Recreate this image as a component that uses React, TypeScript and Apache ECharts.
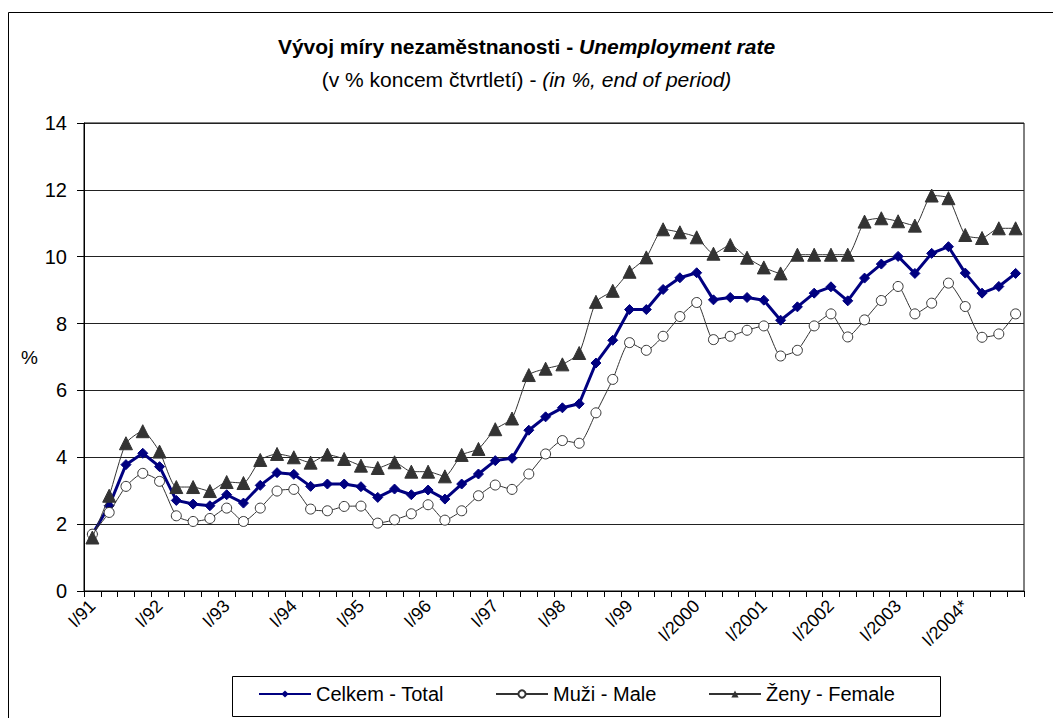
import React, { useEffect, useRef } from "react";
import * as echarts from "echarts";

const years = ["91", "92", "93", "94", "95", "96", "97", "98", "99", "2000", "2001", "2002", "2003", "2004"];
const quarters = ["I", "II", "III", "IV"];
const categories: string[] = [];
years.forEach((y) => {
  quarters.forEach((q) => {
    categories.push(q + "/" + y + (y === "2004" && q === "I" ? "*" : ""));
  });
});

const totalValues = [
  1.7, 2.55, 3.78, 4.12, 3.72, 2.71, 2.6, 2.55, 2.88, 2.63, 3.16, 3.54, 3.49, 3.13,
  3.2, 3.2, 3.12, 2.8, 3.05, 2.88, 3.02, 2.75, 3.2, 3.5, 3.9, 3.97, 4.81, 5.21,
  5.48, 5.6, 6.82, 7.5, 8.42, 8.42, 9.02, 9.37, 9.52, 8.71, 8.78, 8.78, 8.7, 8.1,
  8.5, 8.91, 9.1, 8.68, 9.36, 9.78, 10.01, 9.5, 10.1, 10.3, 9.51, 8.91, 9.11, 9.5,
];

const maleValues = [
  1.7, 2.35, 3.13, 3.52, 3.28, 2.25, 2.08, 2.17, 2.48, 2.08, 2.48, 2.99, 3.04, 2.45,
  2.4, 2.53, 2.54, 2.03, 2.13, 2.31, 2.58, 2.12, 2.4, 2.85, 3.17, 3.04, 3.5, 4.1,
  4.5, 4.42, 5.33, 6.33, 7.43, 7.2, 7.62, 8.21, 8.63, 7.52, 7.62, 7.8, 7.93, 7.03,
  7.2, 7.93, 8.29, 7.6, 8.11, 8.69, 9.11, 8.29, 8.61, 9.21, 8.51, 7.59, 7.69, 8.29,
];

const femaleValues = [
  1.6, 2.85, 4.42, 4.78, 4.17, 3.11, 3.11, 2.99, 3.26, 3.23, 3.92, 4.1, 4.0, 3.84,
  4.08, 3.95, 3.75, 3.68, 3.85, 3.57, 3.57, 3.43, 4.07, 4.25, 4.84, 5.16, 6.46, 6.65,
  6.78, 7.12, 8.65, 8.98, 9.55, 9.98, 10.82, 10.73, 10.58, 10.09, 10.35, 9.97, 9.68, 9.5,
  10.06, 10.06, 10.06, 10.06, 11.05, 11.15, 11.06, 10.93, 11.83, 11.75, 10.65, 10.56, 10.85, 10.85,
];

const seriesNames = ["Celkem - Total", "Muži - Male", "Ženy - Female"];
const FONT = "'Liberation Sans', Arial, sans-serif";

export default function App() {
  const ref = useRef<HTMLDivElement>(null);
  useEffect(() => {
    if (!ref.current) return;
    const chart = echarts.init(ref.current, undefined, { renderer: "svg" });
    const legendBase = {
      top: 684,
      itemWidth: 52,
      itemHeight: 9,
      itemGap: 6,
      padding: 0,
      textStyle: { fontFamily: FONT, fontSize: 20, color: "#000" },
    };
    chart.setOption({
      animation: false,
      backgroundColor: "#fff",
      textStyle: { fontFamily: FONT, color: "#000" },
      title: [
        {
          left: "center",
          top: 31,
          text: "{a|Vývoj míry nezaměstnanosti - }{b|Unemployment rate}",
          textStyle: {
            rich: {
              a: { fontFamily: FONT, fontSize: 21, fontWeight: "bold", color: "#000" },
              b: { fontFamily: FONT, fontSize: 21, fontWeight: "bold", fontStyle: "italic", color: "#000" },
            },
          },
        },
        {
          left: "center",
          top: 64,
          text: "{a|(v % koncem čtvrtletí) - }{b|(in %, end of period)}",
          textStyle: {
            fontWeight: "normal",
            rich: {
              a: { fontFamily: FONT, fontSize: 21, fontWeight: "normal", color: "#000" },
              b: { fontFamily: FONT, fontSize: 21, fontWeight: "normal", fontStyle: "italic", color: "#000" },
            },
          },
        },
      ],
      graphic: [
        {
          type: "rect",
          shape: { x: 8.5, y: 12.5, width: 1200, height: 900 },
          style: { fill: "none", stroke: "#000", lineWidth: 1 },
          silent: true,
        },
        {
          type: "rect",
          shape: { x: 232.5, y: 676.5, width: 708, height: 40 },
          style: { fill: "#fff", stroke: "#000", lineWidth: 1 },
          silent: true,
          z: -1,
        },
        {
          type: "text",
          x: 21,
          y: 348,
          style: { text: "%", fontFamily: FONT, fontSize: 19, fill: "#000" },
        },
      ],
      legend: [
        { ...legendBase, left: 258, data: [seriesNames[0]] },
        { ...legendBase, left: 495, data: [seriesNames[1]] },
        { ...legendBase, left: 708, data: [seriesNames[2]] },
      ],
      grid: { left: 84, top: 123, right: 29, bottom: 127, show: true, borderColor: "#000", borderWidth: 1 },
      xAxis: {
        type: "category",
        data: categories,
        boundaryGap: true,
        axisLine: { lineStyle: { color: "#000", width: 1 } },
        axisTick: { show: true, interval: 0, length: 6, lineStyle: { color: "#000" } },
        axisLabel: {
          interval: 3,
          rotate: 45,
          margin: 12,
          fontFamily: FONT,
          fontSize: 18,
          color: "#000",
        },
      },
      yAxis: {
        type: "value",
        min: 0,
        max: 14,
        interval: 2,
        axisLine: { show: true, lineStyle: { color: "#000", width: 1 } },
        axisTick: { show: true, length: 7, lineStyle: { color: "#000" } },
        axisLabel: { margin: 17, fontFamily: FONT, fontSize: 20, color: "#000" },
        splitLine: { show: true, lineStyle: { color: "#222", width: 1 } },
      },
      series: [
        {
          name: seriesNames[0],
          type: "line",
          data: totalValues,
          showAllSymbol: true,
          symbol: "diamond",
          symbolSize: 10,
          lineStyle: { color: "#000080", width: 3 },
          itemStyle: { color: "#000080", borderColor: "#000080" },
          z: 3,
        },
        {
          name: seriesNames[1],
          type: "line",
          data: maleValues,
          showAllSymbol: true,
          smooth: 0.2,
          symbol: "circle",
          symbolSize: 10,
          lineStyle: { color: "#333", width: 1 },
          itemStyle: { color: "#fff", borderColor: "#333", borderWidth: 1 },
          z: 4,
        },
        {
          name: seriesNames[2],
          type: "line",
          data: femaleValues,
          showAllSymbol: true,
          smooth: 0.2,
          symbol: "triangle",
          symbolSize: 13,
          lineStyle: { color: "#333", width: 1 },
          itemStyle: { color: "#333", borderColor: "#333" },
          z: 5,
        },
      ],
    });
    return () => chart.dispose();
  }, []);
  return (
    <div
      ref={ref}
      style={{ position: "fixed", left: 0, top: 0, width: 1053, height: 718, background: "#fff" }}
    />
  );
}
